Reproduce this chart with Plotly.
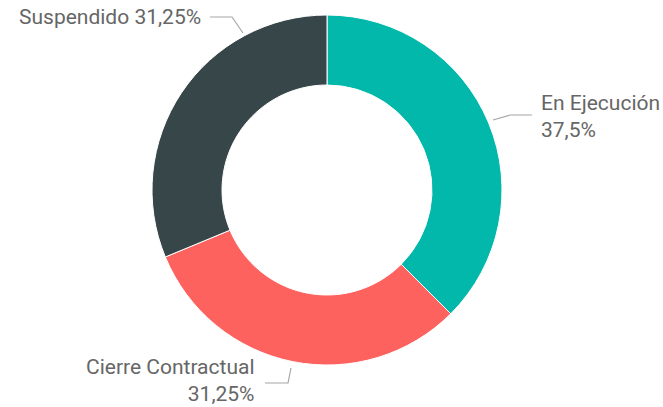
import plotly.graph_objects as go

# data
estados = ["En Ejecución", "Cierre Contractual", "Suspendido"]
porcentajes = [37.5, 31.25, 31.25]
colores = ["#01B8AA", "#FD625E", "#374649"]

W, H = 663, 407


def px_x(x):
    return x / W


def px_y(y):
    return 1 - y / H


def fmt(v):
    s = f"{v:g}".replace(".", ",")
    return s + "%"


fig = go.Figure(
    go.Pie(
        labels=estados,
        values=porcentajes,
        hole=0.6,
        sort=False,
        direction="clockwise",
        rotation=0,
        marker=dict(colors=colores, line=dict(color="white", width=1)),
        textinfo="none",
        hoverinfo="label+percent",
        domain=dict(x=[px_x(327 - 175), px_x(327 + 175)], y=[px_y(190 + 175), px_y(190 - 175)]),
        showlegend=False,
    )
)

font = dict(family="Roboto, DejaVu Sans", size=21, color="#666666")

# label placement (pixels): text anchor, alignment, leader line path
labels = [
    dict(text=f"{estados[0]}<br>{fmt(porcentajes[0])}", x=539, y=116, xanchor="left", align="left",
         line=[(493, 120), (510, 115), (532, 115)]),
    dict(text=f"{estados[1]}<br>{fmt(porcentajes[1])}", x=257, y=380, xanchor="right", align="right",
         line=[(291, 368), (288, 383), (265, 383)]),
    dict(text=f"{estados[2]} {fmt(porcentajes[2])}", x=203, y=17, xanchor="right", align="right",
         line=[(243, 33), (232, 17), (210, 17)]),
]

for lb in labels:
    fig.add_annotation(
        text=lb["text"], x=px_x(lb["x"]), y=px_y(lb["y"]), xref="paper", yref="paper",
        xanchor=lb["xanchor"], yanchor="middle", align=lb["align"], showarrow=False, font=font,
    )
    pts = lb["line"]
    path = "M " + " L ".join(f"{px_x(a)},{px_y(b)}" for a, b in pts)
    fig.add_shape(type="path", path=path, xref="paper", yref="paper",
                  line=dict(color="#A6A6A6", width=1.2))

fig.update_layout(
    width=W,
    height=H,
    margin=dict(l=0, r=0, t=0, b=0),
    paper_bgcolor="white",
    plot_bgcolor="white",
)

fig.write_html("out.html", config={"displayModeBar": False},
               post_script="document.body.style.margin='0';")
